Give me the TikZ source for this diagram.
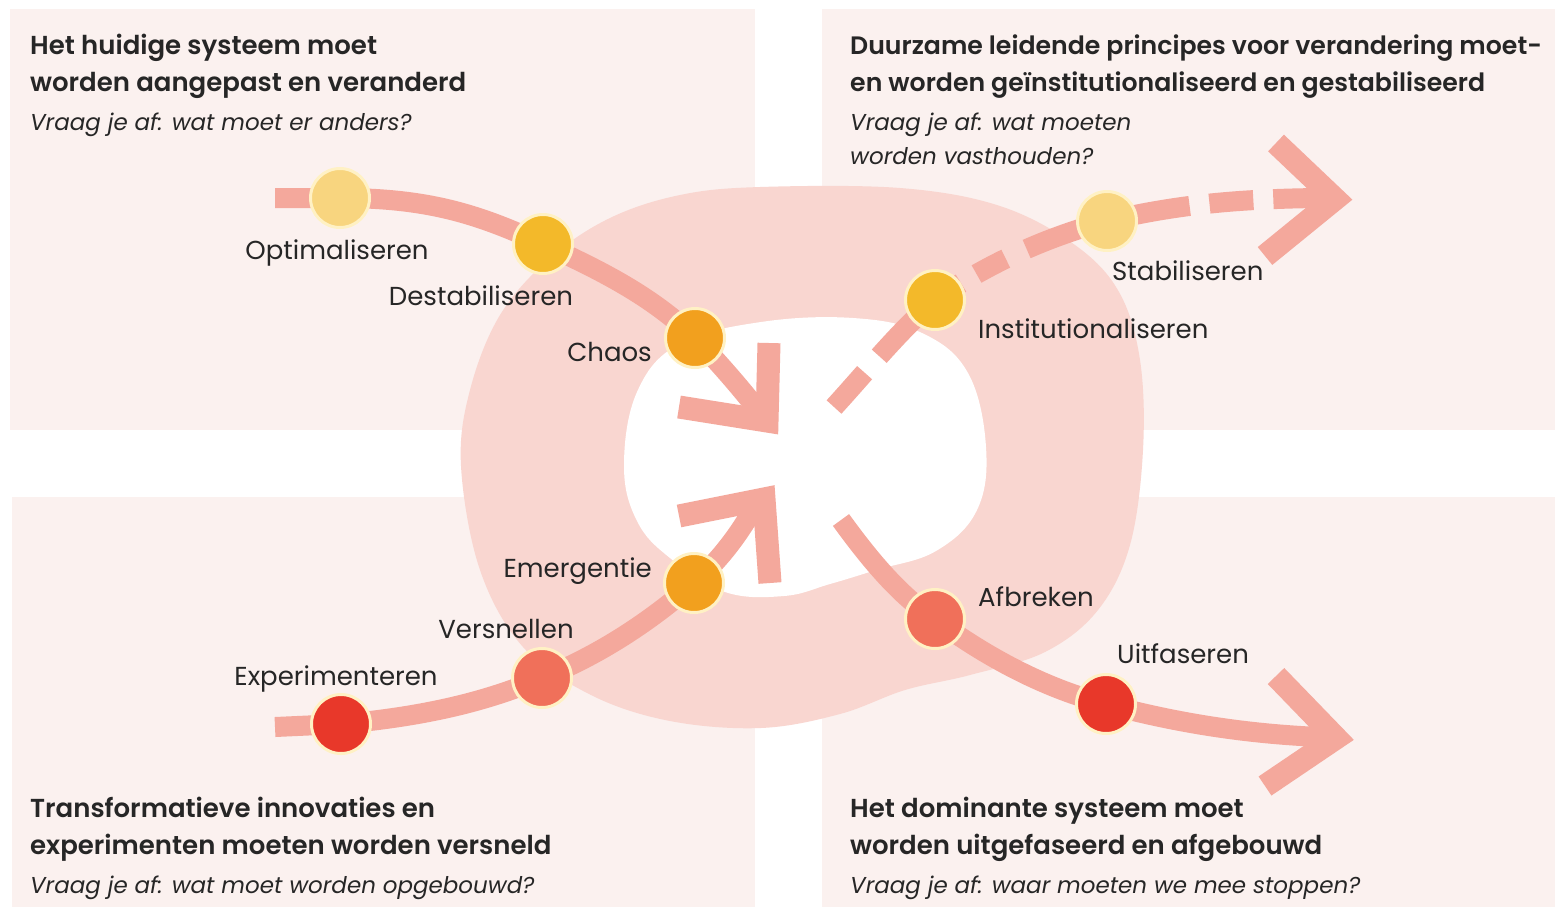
\documentclass[tikz,border=0pt]{standalone}
\usepackage{fontspec}
\setmainfont{Poppins}[BoldFont={Poppins SemiBold}]
\definecolor{panelc}{HTML}{FBF1EF}
\definecolor{blobc}{HTML}{F9D6D0}
\definecolor{arrowc}{HTML}{F4A89C}
\definecolor{ringc}{HTML}{FFF1C4}
\definecolor{cpale}{HTML}{F8D57F}
\definecolor{cgold}{HTML}{F3B92A}
\definecolor{corange}{HTML}{F2A01E}
\definecolor{csalmon}{HTML}{F0705A}
\definecolor{cred}{HTML}{E8382A}
\definecolor{txtc}{HTML}{262626}
\begin{document}
\begin{tikzpicture}[x=1pt,y=-1pt,
  panel/.style={fill=panelc},
  pathline/.style={draw=arrowc, line width=20pt, line cap=butt},
  chev/.style={draw=arrowc, line width=23pt, line join=miter, line cap=butt},
  stage/.style={circle, minimum size=59pt, inner sep=0pt, draw=ringc, line width=3pt},
  lbl/.style={font=\fontsize{26}{30}\selectfont, text=txtc, inner sep=0pt},
  ttl/.style={font=\bfseries\fontsize{26}{37}\selectfont, text=txtc, inner sep=0pt, anchor=base west, align=left},
  qst/.style={font=\itshape\fontsize{23}{34}\selectfont, text=txtc, inner sep=0pt, anchor=base west, align=left}]
\useasboundingbox (0,0) rectangle (1555,911);
\fill[white] (0,0) rectangle (1555,911);
% panels
\fill[panel] (10,9) rectangle (755,430);
\fill[panel] (822,9) rectangle (1555,430);
\fill[panel] (12,497) rectangle (755,907);
\fill[panel] (822,497) rectangle (1555,907);
% central blob
\fill[blobc] plot[smooth cycle, tension=0.6] coordinates {
  (461,466) (470,390) (500,315) (550,258) (610,218) (680,195) (760,187) (900,188)
  (1000,206) (1075,245) (1119,292) (1140,360) (1143,450) (1130,545) (1098,610)
  (1045,652) (970,675) (905,690) (840,714) (761,728) (670,721) (591,695) (523,647) (480,570)};
\fill[white] plot[smooth cycle, tension=0.65] coordinates {
  (624,466) (637,392) (679,344) (761,322) (853,318) (922,333) (968,373) (986,447)
  (977,510) (936,551) (876,570) (830,584) (784,596) (725,592) (670,558) (637,521)};
% stage positions
\coordinate (pOpt) at (340,198);
\coordinate (pDest) at (543,244);
\coordinate (pChaos) at (695,338);
\coordinate (pInst) at (935,300);
\coordinate (pStab) at (1107,221);
\coordinate (pEmer) at (694,583);
\coordinate (pVers) at (542,678);
\coordinate (pExp) at (341,724);
\coordinate (pAfb) at (935,619);
\coordinate (pUit) at (1106,704);
% path ends
\coordinate (s1) at (275,198);
\coordinate (e1) at (758,410);
\coordinate (s2) at (275,727);
\coordinate (e2) at (752,511);
\coordinate (s3) at (834,407);
\coordinate (e3) at (1318,198);
\coordinate (s4) at (841,520);
\coordinate (e4) at (1320,737);
% chevrons
\coordinate (a1) at (679,407); \coordinate (t1) at (767,421); \coordinate (b1) at (769,343);
\coordinate (a2) at (679,516); \coordinate (t2) at (764,499); \coordinate (b2) at (770,583);
\coordinate (a3) at (1276,143); \coordinate (t3) at (1335,199); \coordinate (b3) at (1265,256);
\coordinate (a4) at (1276,676); \coordinate (t4) at (1336,738); \coordinate (b4) at (1265,786);
% path 1
\draw[pathline] (s1) -- (pOpt) .. controls (430,198) and (480,215) .. (pDest)
  .. controls (600,270) and (652,296) .. (pChaos) .. controls (722,366) and (742,390) .. (e1);
\draw[chev] (a1) -- (t1) -- (b1);
% path 2
\draw[pathline] (s2) -- (pExp) .. controls (430,716) and (490,700) .. (pVers)
  .. controls (600,655) and (652,620) .. (pEmer) .. controls (722,558) and (740,532) .. (e2);
\draw[chev] (a2) -- (t2) -- (b2);
% path 3 (dashed)
\draw[pathline, dash pattern=on 46pt off 22pt on 300pt] (s3) .. controls (866,372) and (900,330) .. (pInst);
\draw[pathline, dash pattern=on 31pt off 18pt on 33pt off 23pt on 300pt] (pInst) .. controls (990,262) and (1050,236) .. (pStab);
\draw[pathline, dash pattern=on 84pt off 20pt on 44pt off 20pt on 300pt] (pStab) .. controls (1180,204) and (1240,199) .. (e3);
\draw[chev] (a3) -- (t3) -- (b3);
% path 4
\draw[pathline] (s4) .. controls (870,560) and (900,596) .. (pAfb)
  .. controls (990,660) and (1050,690) .. (pUit) .. controls (1180,724) and (1250,734) .. (e4);
\draw[chev] (a4) -- (t4) -- (b4);
% stages
\node[stage, fill=cpale] (opt) at (pOpt) {};
\node[stage, fill=cgold] (dest) at (pDest) {};
\node[stage, fill=corange] (chaos) at (pChaos) {};
\node[stage, fill=cgold] (inst) at (pInst) {};
\node[stage, fill=cpale] (stab) at (pStab) {};
\node[stage, fill=corange] (emer) at (pEmer) {};
\node[stage, fill=csalmon] (vers) at (pVers) {};
\node[stage, fill=cred] (exp) at (pExp) {};
\node[stage, fill=csalmon] (afb) at (pAfb) {};
\node[stage, fill=cred] (uit) at (pUit) {};
% labels
\node[lbl, anchor=base] (lOpt) at (337,259) {Optimaliseren};
\node[lbl, anchor=base] (lDest) at (481,305) {Destabiliseren};
\node[lbl, anchor=base east] (lChaos) at (652,361) {Chaos};
\node[lbl, anchor=base west] (lInst) at (978,338) {Institutionaliseren};
\node[lbl, anchor=base west] (lStab) at (1112,280) {Stabiliseren};
\node[lbl, anchor=base east] (lEmer) at (652,577) {Emergentie};
\node[lbl, anchor=base] (lVers) at (506,638) {Versnellen};
\node[lbl, anchor=base] (lExp) at (336,685) {Experimenteren};
\node[lbl, anchor=base west] (lAfb) at (978,606) {Afbreken};
\node[lbl, anchor=base west] (lUit) at (1117,663) {Uitfaseren};
% titles (base anchor = baseline of the last line)
\node[ttl] (tTL) at (30,91) {Het huidige systeem moet\\worden aangepast en veranderd};
\node[qst] (qTL) at (30,130) {Vraag je af: wat moet er anders?};
\node[ttl, font=\bfseries\fontsize{25.2}{37}\selectfont] (tTR) at (850,91) {Duurzame leidende principes voor verandering moet-\\en worden geïnstitutionaliseerd en gestabiliseerd};
\node[qst] (qTR) at (850,164) {Vraag je af: wat moeten\\worden vasthouden?};
\node[ttl] (tBL) at (30,854) {Transformatieve innovaties en\\experimenten moeten worden versneld};
\node[qst] (qBL) at (30,893) {Vraag je af: wat moet worden opgebouwd?};
\node[ttl] (tBR) at (850,854) {Het dominante systeem moet\\worden uitgefaseerd en afgebouwd};
\node[qst] (qBR) at (850,893) {Vraag je af: waar moeten we mee stoppen?};
\end{tikzpicture}
\end{document}
